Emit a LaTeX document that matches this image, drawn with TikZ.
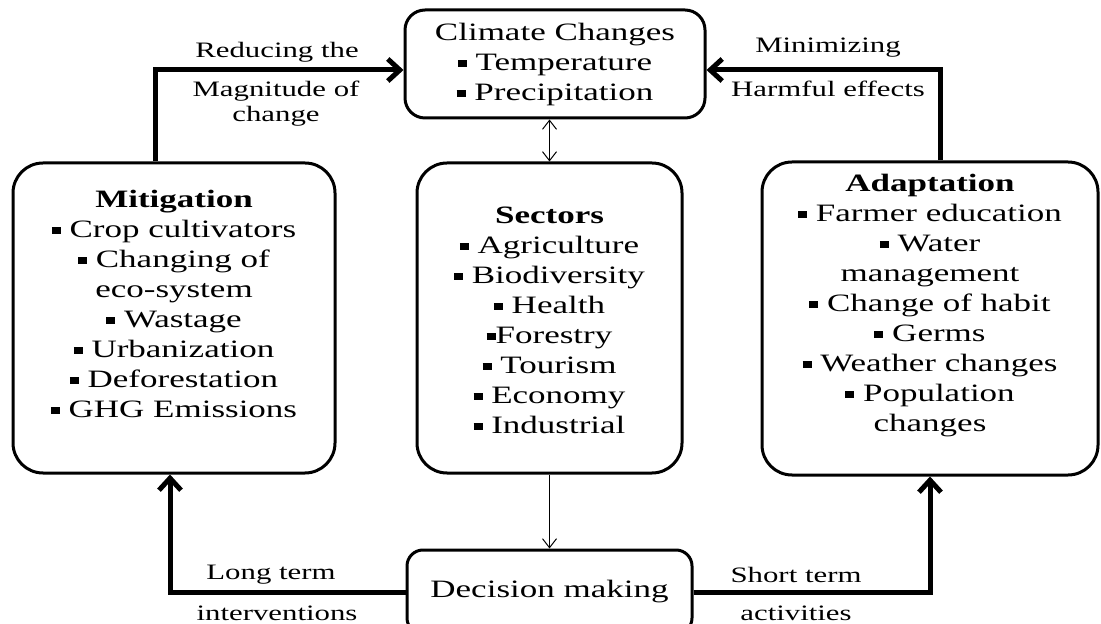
\documentclass[tikz,border=0pt]{standalone}
\usepackage{fontspec}
\setmainfont{Liberation Serif}[FakeStretch=1.4]
\usetikzlibrary{arrows.meta}

\newcommand{\sqb}{\rule[0.14em]{0.36em}{0.28em}\ }

\begin{document}
\begin{tikzpicture}[x=0.5pt, y=-0.5pt,
    box/.style={draw, line width=1.5pt, align=center, font=\fontsize{12.5}{15}\selectfont},
    boxtext/.style={align=center, font=\fontsize{12.5}{15}\selectfont},
    lbl/.style={align=center, font=\fontsize{11}{12.5}\selectfont},
    bigarrow/.style={line width=2.5pt, -{Straight Barb[length=6pt, width=11pt]}},
    thinarrow/.style={line width=0.5pt, -{Straight Barb[length=4.5pt, width=7pt]}},
    thinboth/.style={line width=0.5pt, {Straight Barb[length=4.5pt, width=7pt]}-{Straight Barb[length=4.5pt, width=7pt]}}]

\useasboundingbox (0, 0) rectangle (1101, 624);
\clip (0, 0) rectangle (1101, 624);

\node[box, rounded corners=10pt, minimum width=150pt, minimum height=54pt] (ctop) at (555, 64) {Climate Changes\\ \sqb Temperature\\ \sqb Precipitation};

\node[box, rounded corners=15pt, minimum width=161pt, minimum height=155pt] (mitig) at (174, 318) {};
\node[boxtext] (mitigtext) at (174, 304) {\textbf{Mitigation}\\ \sqb Crop cultivators\\ \sqb Changing of\\ eco-system\\ \sqb Wastage\\ \sqb Urbanization\\ \sqb Deforestation\\ \sqb GHG Emissions};

\node[box, rounded corners=15pt, minimum width=132.5pt, minimum height=155pt] (sect) at (549.5, 318) {};
\node[boxtext] (secttext) at (549.5, 320) {\textbf{Sectors}\\ \sqb Agriculture\\ \sqb Biodiversity\\ \sqb Health\\ \rule[0.14em]{0.36em}{0.28em}Forestry\\ \sqb Tourism\\ \sqb Economy\\ \sqb Industrial};

\node[box, rounded corners=15pt, minimum width=168pt, minimum height=156.5pt] (adapt) at (930, 318.5) {};
\node[boxtext] (adapttext) at (930, 306) {\textbf{Adaptation}\\ \sqb Farmer education\\ \sqb Water\\ management\\ \sqb Change of habit\\ \sqb Germs\\ \sqb Weather changes\\ \sqb Population\\ changes};

\node[box, rounded corners=8pt, minimum width=142.5pt, minimum height=42pt] (decis) at (549.5, 592) {Decision making};

\draw[bigarrow] ([xshift=-9.5pt]mitig.north) |- ([yshift=-3pt]ctop.west);
\draw[bigarrow] ([xshift=5pt]adapt.north) |- ([yshift=-3pt]ctop.east);
\draw[thinboth] (ctop.south -| sect.north) -- (sect.north);
\draw[thinarrow] (sect.south) -- (decis.north);
\draw[bigarrow] (decis.west) -| ([xshift=-2pt]mitig.south);
\draw[bigarrow] (decis.east) -| (adapt.south);

\node[lbl] (reduce) at (277, 52) {Reducing the};
\node[lbl] (magn) at (276, 104) {Magnitude of\\change};
\node[lbl] (minim) at (828, 48) {Minimizing};
\node[lbl] (harm) at (828, 89) {Harmful effects};
\node[lbl] (longt) at (271, 575) {Long term};
\node[lbl] (interv) at (277, 613) {interventions};
\node[lbl] (shortt) at (796, 575) {Short term};
\node[lbl] (activ) at (796, 613) {activities};

\end{tikzpicture}
\end{document}
